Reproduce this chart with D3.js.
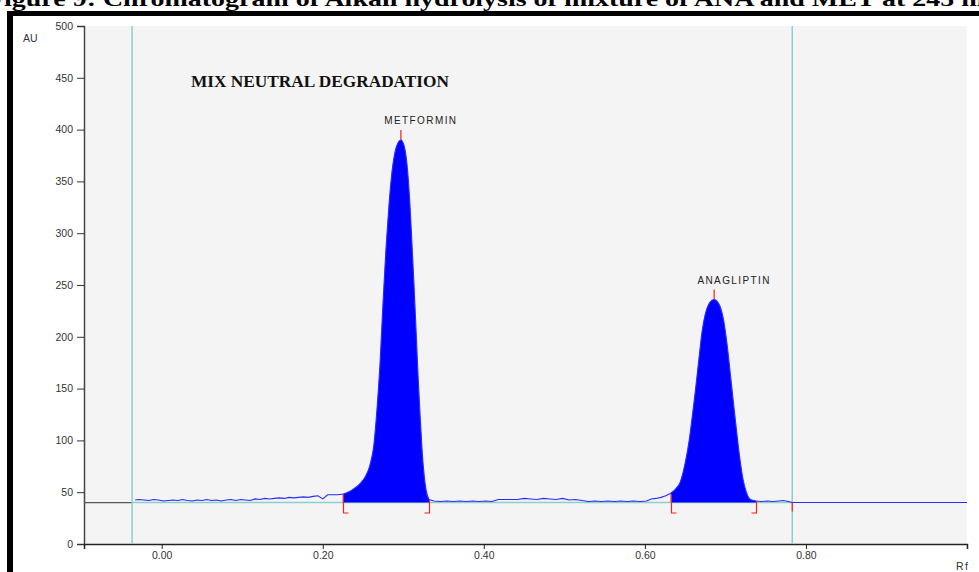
<!DOCTYPE html>
<html>
<head>
<meta charset="utf-8">
<script src="https://cdn.jsdelivr.net/npm/d3@7"></script>
<style>
  body { margin: 0; background: #fff; }
  svg { display: block; }
</style>
</head>
<body>
<div id="chart"></div>
<script>
// Chromatogram data (Rf, AU)
const xTicks = [0.0, 0.2, 0.4, 0.6, 0.8];
const yTicks = [0, 50, 100, 150, 200, 250, 300, 350, 400, 450, 500];

const baselineAU = 40;
const trackStart = -0.0368;   // cyan start line
const trackEnd = 0.783;       // cyan front line

const noiseBefore = [
  [-0.033, 42.5], [-0.028, 43], [-0.022, 42.5], [-0.016, 42], [-0.010, 43], [-0.004, 42.5],
  [0.002, 41.5], [0.008, 42], [0.014, 42.5], [0.020, 42], [0.026, 43], [0.032, 42],
  [0.038, 41.5], [0.044, 42.5], [0.050, 42], [0.056, 43], [0.062, 42], [0.068, 42.5],
  [0.074, 41.5], [0.080, 42.5], [0.086, 43], [0.092, 42], [0.098, 43], [0.104, 42.5],
  [0.110, 42], [0.116, 43.5], [0.122, 43], [0.128, 44], [0.134, 43.5], [0.140, 44],
  [0.146, 44.5], [0.152, 44], [0.158, 45], [0.164, 44.5], [0.170, 45], [0.176, 45.5],
  [0.182, 45], [0.188, 46], [0.194, 46.5], [0.200, 43.5], [0.206, 47.5], [0.212, 47.5],
  [0.218, 47.5]
];

const metforminPeak = [
  [0.2248, 48], [0.2360, 52], [0.2460, 58], [0.2535, 66], [0.2585, 76], [0.2635, 96],
  [0.2672, 129], [0.2710, 173], [0.2747, 231], [0.2784, 284], [0.2822, 327], [0.2859, 359],
  [0.2896, 378], [0.2933, 387], [0.2971, 390], [0.3008, 385], [0.3033, 375], [0.3058, 356],
  [0.3083, 327], [0.3108, 289], [0.3133, 250], [0.3158, 207], [0.3183, 163], [0.3208, 125],
  [0.3233, 91], [0.3258, 67], [0.3283, 52], [0.3320, 43]
];

const noiseBetween = [
  [0.338, 41.5], [0.346, 41], [0.354, 41.5], [0.362, 41], [0.370, 41.5], [0.378, 41],
  [0.386, 41.5], [0.394, 41], [0.402, 41.5], [0.410, 41], [0.418, 43], [0.426, 43],
  [0.434, 43], [0.442, 43], [0.450, 44], [0.458, 43.5], [0.466, 43], [0.474, 44],
  [0.482, 43.5], [0.490, 43], [0.498, 44], [0.506, 42.5], [0.514, 43], [0.522, 42],
  [0.530, 41], [0.538, 41.5], [0.546, 41], [0.554, 41.5], [0.562, 41], [0.570, 41.5],
  [0.578, 41], [0.586, 41.5], [0.594, 41], [0.602, 41.5], [0.608, 43.5], [0.614, 44],
  [0.620, 45], [0.626, 46.5]
];

const anagliptinPeak = [
  [0.632, 49], [0.638, 53], [0.644, 60], [0.650, 78], [0.655, 100], [0.659, 124],
  [0.663, 150], [0.667, 178], [0.671, 205], [0.675, 222], [0.679, 231], [0.683, 235],
  [0.686, 236], [0.690, 234], [0.694, 228], [0.698, 215], [0.702, 193], [0.706, 165],
  [0.710, 136], [0.714, 108], [0.718, 82], [0.722, 62], [0.726, 50], [0.731, 43],
  [0.738, 41.5]
];

const noiseAfter = [
  [0.745, 41], [0.752, 41.5], [0.759, 41], [0.766, 41.5], [0.772, 42], [0.778, 41],
  [0.783, 40], [1.0, 40]
];

const peakNames = ["METFORMIN", "ANAGLIPTIN"];
const peakMax = [[0.297, 390], [0.686, 236]];
const peakBounds = [[0.2248, 0.332], [0.632, 0.738]];

const title = "MIX NEUTRAL DEGRADATION";
const caption = "Figure 9: Chromatogram of Alkali hydrolysis of mixture of ANA and MET at 245 nm";

const width = 979, height = 572;
const font = "Arial, Liberation Sans, sans-serif";
const svg = d3.select("#chart").append("svg")
  .attr("width", width)
  .attr("height", height);

const x = d3.scaleLinear().domain([-0.0965, 1.0]).range([84, 967]);
const y = d3.scaleLinear().domain([0, 500]).range([544, 26]);

// caption cut off at top, and the black frame
svg.append("text")
  .attr("x", -13).attr("y", 6)
  .attr("font-family", "Liberation Serif, serif")
  .attr("font-weight", "bold")
  .attr("font-size", 21)
  .attr("textLength", 1013)
  .attr("lengthAdjust", "spacingAndGlyphs")
  .text(caption);

svg.append("rect").attr("x", 7).attr("y", 11).attr("width", width - 7).attr("height", 5).attr("fill", "#000");
svg.append("rect").attr("x", 7).attr("y", 11).attr("width", 6).attr("height", height - 11).attr("fill", "#000");

// plot background
svg.append("rect")
  .attr("x", x.range()[0]).attr("y", y(500))
  .attr("width", x.range()[1] - x.range()[0])
  .attr("height", y(0) - y(500))
  .attr("fill", "#f4f4f4");

// y axis
const yAxis = svg.append("g")
  .attr("transform", `translate(${x.range()[0]},0)`)
  .call(d3.axisLeft(y).tickValues(yTicks).tickSize(7).tickPadding(4).tickFormat(d3.format("d")));
yAxis.select(".domain").attr("stroke", "#444").attr("stroke-width", 1.5);
yAxis.selectAll(".tick line").attr("stroke", "#333");
yAxis.selectAll("text").attr("font-family", font).attr("font-size", 10.5).attr("fill", "#333");

// x axis
const xAxis = svg.append("g")
  .attr("transform", `translate(0,${y(0)})`)
  .call(d3.axisBottom(x).tickValues(xTicks).tickSize(5).tickPadding(3).tickFormat(d3.format(".2f")));
xAxis.select(".domain").attr("stroke", "#222").attr("stroke-width", 1.5);
xAxis.selectAll(".tick line").attr("stroke", "#222");
xAxis.selectAll("text").attr("font-family", font).attr("font-size", 10.5).attr("fill", "#333");

svg.append("text").attr("x", 23).attr("y", 42)
  .attr("font-family", font).attr("font-size", 10.5).attr("fill", "#333")
  .text("AU");
svg.append("text").attr("x", 956).attr("y", 570)
  .attr("font-family", font).attr("font-size", 10.5).attr("letter-spacing", 1.5).attr("fill", "#333")
  .text("Rf");

// baseline: dark before start line, cyan across the track
svg.append("line")
  .attr("x1", x.range()[0]).attr("x2", x(trackStart))
  .attr("y1", y(baselineAU)).attr("y2", y(baselineAU))
  .attr("stroke", "#555").attr("stroke-width", 1.2);
svg.append("line")
  .attr("x1", x(trackStart)).attr("x2", x(trackEnd))
  .attr("y1", y(baselineAU)).attr("y2", y(baselineAU))
  .attr("stroke", "#8ccfcf").attr("stroke-width", 1.5);

// start / front lines
svg.selectAll(".track-line")
  .data([trackStart, trackEnd])
  .enter().append("line")
  .attr("x1", d => x(d)).attr("x2", d => x(d))
  .attr("y1", y(500)).attr("y2", y(0))
  .attr("stroke", "#8ccfcf").attr("stroke-width", 1.5);

// filled peaks
const area = d3.area()
  .curve(d3.curveMonotoneX)
  .x(d => x(d[0]))
  .y0(y(baselineAU))
  .y1(d => y(d[1]));

svg.selectAll(".peak")
  .data([metforminPeak, anagliptinPeak])
  .enter().append("path")
  .attr("d", area)
  .attr("fill", "#0000ff");

// trace: noisy parts straight, peak outlines smooth
const straight = d3.line().x(d => x(d[0])).y(d => y(d[1]));
const smooth = d3.line().curve(d3.curveMonotoneX).x(d => x(d[0])).y(d => y(d[1]));
const pieces = [
  [noiseBefore.concat([metforminPeak[0]]), straight],
  [metforminPeak, smooth],
  [[metforminPeak[metforminPeak.length - 1]].concat(noiseBetween, [anagliptinPeak[0]]), straight],
  [anagliptinPeak, smooth],
  [[anagliptinPeak[anagliptinPeak.length - 1]].concat(noiseAfter), straight]
];
svg.selectAll(".trace")
  .data(pieces)
  .enter().append("path")
  .attr("d", d => d[1](d[0]))
  .attr("fill", "none")
  .attr("stroke", "#2a2aff")
  .attr("stroke-width", 1.1);

// red integration brackets
const bracketBottom = 513;
const allPeaks = metforminPeak.concat(anagliptinPeak);
peakBounds.forEach(b => {
  b.forEach((rf, i) => {
    const pt = allPeaks.find(p => p[0] === rf);
    const top = y(Math.min(pt[1], 48));
    const xp = Math.round(x(rf)) + 0.5;
    const foot = i === 0 ? 5 : -5;
    svg.append("path")
      .attr("d", `M${xp},${top}V${bracketBottom}h${foot}`)
      .attr("fill", "none")
      .attr("stroke", "#ee2222")
      .attr("stroke-width", 1.2);
  });
});
svg.append("line")
  .attr("x1", x(trackEnd)).attr("x2", x(trackEnd))
  .attr("y1", y(baselineAU)).attr("y2", y(baselineAU) + 9)
  .attr("stroke", "#ee2222").attr("stroke-width", 1.2);

// peak max ticks and names
svg.selectAll(".max-tick")
  .data(peakMax)
  .enter().append("line")
  .attr("x1", d => x(d[0])).attr("x2", d => x(d[0]))
  .attr("y1", d => y(d[1]) - 10).attr("y2", d => y(d[1]))
  .attr("stroke", "#ee2222").attr("stroke-width", 1.2);

svg.selectAll(".peak-name")
  .data(peakMax)
  .enter().append("text")
  .attr("x", d => x(d[0]) + 20)
  .attr("y", d => y(d[1]) - 16)
  .attr("text-anchor", "middle")
  .attr("font-family", font)
  .attr("font-size", 10)
  .attr("letter-spacing", 1.4)
  .attr("fill", "#222")
  .text((d, i) => peakNames[i]);

// title inside plot
svg.append("text")
  .attr("x", 191).attr("y", 87)
  .attr("font-family", "Liberation Serif, Times New Roman, serif")
  .attr("font-weight", "bold")
  .attr("font-size", 17.5)
  .attr("textLength", 258)
  .attr("lengthAdjust", "spacingAndGlyphs")
  .attr("fill", "#111")
  .text(title);
</script>
</body>
</html>
